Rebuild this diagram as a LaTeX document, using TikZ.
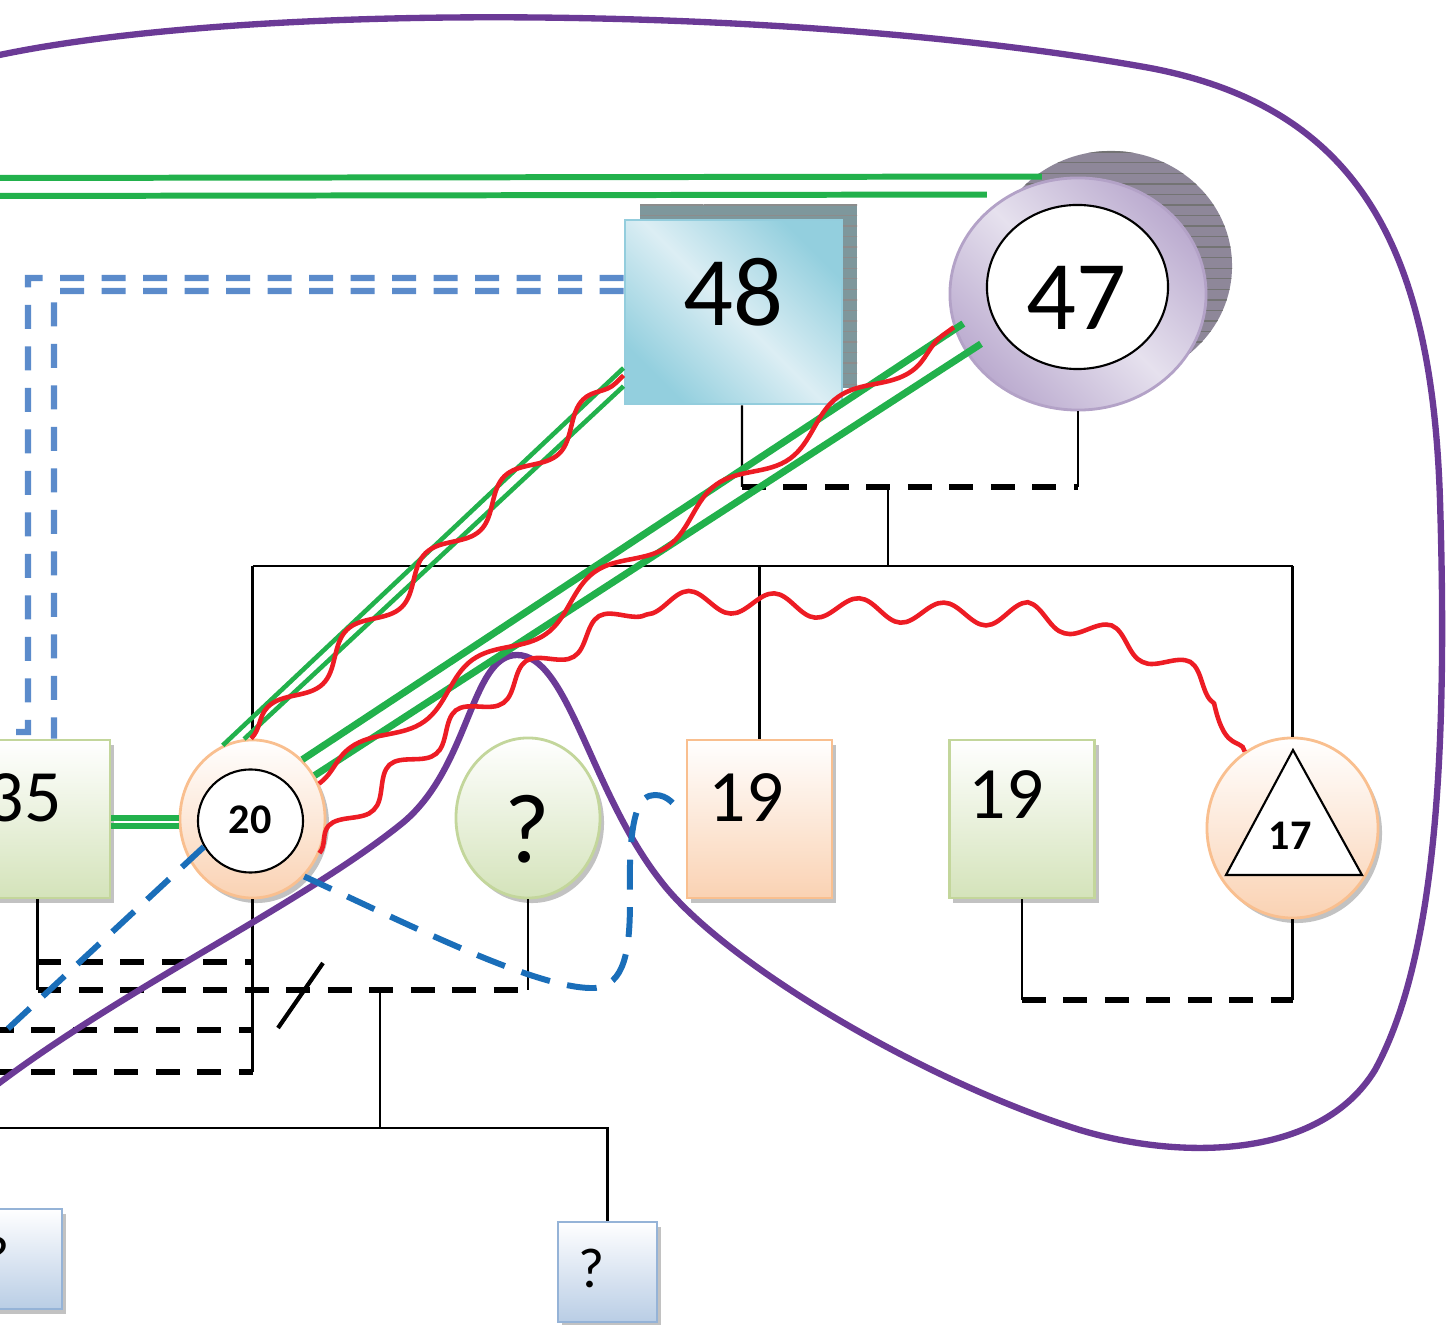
\documentclass[tikz,border=0pt]{standalone}
\usepackage{fontspec}
\setmainfont{Carlito}
\usetikzlibrary{positioning,shapes.geometric,decorations.pathmorphing,patterns,shadows}

\definecolor{RelPurple}{HTML}{6B3A96}
\definecolor{TieGreen}{HTML}{22B14C}
\definecolor{HateRed}{HTML}{ED1C24}
\definecolor{CutBlue}{HTML}{5B8BCB}
\definecolor{DarkBlue}{HTML}{1A6EB9}
\definecolor{LeafLine}{HTML}{C3D69B}
\definecolor{LeafFill}{HTML}{D4E3BA}
\definecolor{PeachLine}{HTML}{F9BF8F}
\definecolor{PeachFill}{HTML}{FAD2B3}
\definecolor{AquaLine}{HTML}{93CDDD}
\definecolor{AquaDark}{HTML}{93CFDE}
\definecolor{AquaLight}{HTML}{DCEEF4}
\definecolor{LilacLine}{HTML}{B3A2C7}
\definecolor{LilacDark}{HTML}{BBABCF}
\definecolor{LilacLight}{HTML}{E6E1EE}
\definecolor{SkyLine}{HTML}{95B3D7}
\definecolor{SkyFill}{HTML}{B9CDE5}
\definecolor{ShadowTeal}{HTML}{7E979C}
\definecolor{ShadowLilac}{HTML}{8E8799}

\begin{document}
\begin{tikzpicture}[
  x=0.01cm, y=-0.01cm,
  man/.style={rectangle, inner sep=0pt, minimum width=1.45cm, minimum height=1.58cm},
  woman/.style={ellipse, inner sep=0pt},
  leaf/.style={draw=LeafLine, line width=0.8pt, top color=white, bottom color=LeafFill},
  peach/.style={draw=PeachLine, line width=0.8pt, top color=white, bottom color=PeachFill},
  sky/.style={draw=SkyLine, line width=0.8pt, top color=white, bottom color=SkyFill},
  softshadow/.style={drop shadow={shadow xshift=0.04cm, shadow yshift=-0.05cm, fill=black!40, opacity=0.6}},
  ring/.style={ellipse, draw, fill=white, line width=0.6pt, inner sep=0pt},
  numbig/.style={font=\fontsize{28}{28}\selectfont, inner sep=0pt},
  numtag/.style={font=\fontsize{21}{21}\selectfont, inner sep=0pt},
  numsmall/.style={font=\bfseries\fontsize{12}{12}\selectfont, inner sep=0pt},
  life/.style={line width=0.7pt},
  marr/.style={line width=1.6pt, dash pattern=on 6.8pt off 5pt},
  split/.style={line width=1.2pt},
  close/.style={TieGreen, line width=1.7pt},
  hostile/.style={HateRed, line width=1.3pt, decorate, decoration={snake, segment length=#1, amplitude=0.11cm}},
  hostile/.default=1cm,
  cutoff/.style={CutBlue, line width=1.8pt, dash pattern=on 6.8pt off 5pt},
  distant/.style={DarkBlue, line width=1.7pt, dash pattern=on 8.5pt off 5pt},
  household/.style={RelPurple, line width=1.8pt}
]
\useasboundingbox (0,0) rectangle (1447,1325);
\clip (0,0) rectangle (1447,1325);

% Generation 1 - grandparents (with hatched shadows)
\path[fill=ShadowTeal, postaction={pattern=horizontal lines, pattern color=black!45}] (640,205) rectangle (857,388);
\path[fill=ShadowLilac, postaction={pattern=horizontal lines, pattern color=black!55}] (1111,266) ellipse [x radius=1.21cm, y radius=1.15cm];
\node[man, draw=AquaLine, line width=0.8pt, top color=AquaDark, bottom color=AquaDark, middle color=AquaLight, shading angle=-45, minimum width=2.17cm, minimum height=1.84cm] (Man48) at (733.5,312) {};
\node[woman, draw=LilacLine, line width=0.8pt, top color=LilacDark, bottom color=LilacDark, middle color=LilacLight, shading angle=-45, minimum width=2.56cm, minimum height=2.32cm] (Woman47) at (1078,294) {};
\node[ring, minimum width=1.81cm, minimum height=1.64cm] (Woman47in) at (1077.5,287) {};
\node[numbig] (Lab48) at (733,292) {48};
\node[numbig] (Lab47) at (1076,298) {47};

% Generation 2 - children and partners
\node[man, leaf, softshadow] (Man35) at (37.5,819) {};
\node[woman, peach, softshadow, minimum width=1.45cm, minimum height=1.58cm] (Woman20) at (252.5,819) {};
\node[ring, minimum width=1.05cm, minimum height=1.03cm] (Woman20in) at (250.5,821) {};
\node[woman, leaf, softshadow, minimum width=1.44cm, minimum height=1.6cm] (WomanQ) at (528,818) {};
\node[man, peach, softshadow] (Man19a) at (759.5,819) {};
\node[man, leaf, softshadow] (Man19b) at (1022,819) {};
\node[woman, peach, softshadow, minimum width=1.71cm, minimum height=1.8cm] (Woman17) at (1292.5,828) {};
\draw[fill=white, line width=0.6pt] (1293,750) -- (1362,875) -- (1226,875) -- cycle;
\node[numtag] (Lab35) at (24,798) {35};
\node[numsmall] (Lab20) at (250,820) {20};
\node[numbig] (LabQ) at (527,829) {?};
\node[numtag] (Lab19a) at (746,798) {19};
\node[numtag] (Lab19b) at (1006,795) {19};
\node[numsmall] (Lab17) at (1290,836) {17};

% Generation 3 - grandchildren
\node[man, sky, softshadow, minimum width=0.99cm, minimum height=1.0cm] (BoyQa) at (12.5,1259) {};
\node[man, sky, softshadow, minimum width=0.99cm, minimum height=1.0cm] (BoyQb) at (607.5,1272) {};
\node[font=\fontsize{16}{16}\selectfont, inner sep=0pt] (LabQa) at (-3,1256) {?};
\node[font=\fontsize{16}{16}\selectfont, inner sep=0pt] (LabQb) at (592,1268) {?};

% 48 + 47 and their children
\coordinate (Wed1L) at (742,487);
\coordinate (Wed1R) at (1078,487);
\coordinate (Kids1) at (888,487);
\coordinate (Bar1) at (888,566);
\draw[life] ([xshift=0.085cm]Man48.south) -- (Wed1L);
\draw[life] (Woman47.south) -- (Wed1R);
\draw[marr] (Wed1L) -- (Wed1R);
\draw[life] (Kids1) -- (Bar1);
\draw[life] (Woman20.north |- Bar1) -- (Woman17.north |- Bar1);
\draw[life] (Woman20.north |- Bar1) -- (Woman20.north);
\draw[life] (Man19a.north |- Bar1) -- (Man19a.north);
\draw[life] (Woman17.north |- Bar1) -- (Woman17.north);

% partners of 20 and their child
\coordinate (Wed2a) at (37.5,962);
\coordinate (Wed2b) at (37.5,990);
\coordinate (Wed3a) at (252.5,1030);
\coordinate (Wed3b) at (252.5,1072);
\coordinate (Away1) at (-10,1030);
\coordinate (Away2) at (-10,1072);
\coordinate (Cut1) at (278,1028);
\coordinate (Cut2) at (323,963);
\coordinate (Kids2) at (380,990);
\coordinate (Bar2) at (380,1128);
\coordinate (Bar2L) at (-10,1128);
\draw[life] (Man35.south) -- (Wed2b);
\draw[life] (Woman20.south) -- (Wed3b);
\draw[life] (WomanQ.south) -- (WomanQ.south |- Wed2b);
\draw[marr] (Wed2a) -- (Woman20.south |- Wed2a);
\draw[marr] (Wed2b) -- (WomanQ.south |- Wed2b);
\draw[marr] (Away1) -- (Wed3a);
\draw[marr] (Away2) -- (Wed3b);
\draw[split] (Cut1) -- (Cut2);
\draw[life] (Kids2) -- (Bar2);
\draw[life] (Bar2L) -- (BoyQb.north |- Bar2) -- (BoyQb.north);

% 19 + 17
\coordinate (Wed4) at (1150,1000);
\draw[life] (Man19b.south) -- (Man19b.south |- Wed4);
\draw[life] (Woman17.south) -- (Woman17.south |- Wed4);
\draw[marr] (Man19b.south |- Wed4) -- (Woman17.south |- Wed4);

% household boundary
\draw[household] (-10,57) .. controls (250,0) and (800,5) .. (1150,68)
  .. controls (1360,108) and (1432,250) .. (1440,500)
  .. controls (1448,760) and (1435,960) .. (1375,1070)
  .. controls (1320,1160) and (1180,1160) .. (1080,1130)
  .. controls (920,1080) and (720,960) .. (660,880)
  .. controls (590,790) and (568,655) .. (517,655)
  .. controls (470,655) and (470,770) .. (400,825)
  .. controls (300,905) and (120,990) .. (-10,1090);

% cut-off 48 - 35
\coordinate (CutA1) at (28,278);
\coordinate (CutA2) at (28,732);
\coordinate (CutA3) at (16,732);
\coordinate (CutB1) at (54,291);
\draw[cutoff] ([yshift=0.34cm]Man48.west) -- (CutA1) -- (CutA2) -- (CutA3);
\draw[cutoff] ([yshift=0.21cm]Man48.west) -- (CutB1) -- (CutB1 |- Man35.north);

% distant ties of 20
\coordinate (Away3) at (-15,1050);
\draw[distant] (Woman20in.209) -- (Away3);
\draw[distant, shorten >=0.06cm] (Woman20.-48) .. controls (420,930) and (540,990) .. (595,988)
  .. controls (625,985) and (630,950) .. (630,900)
  .. controls (628,810) and (640,795) .. (655,795)
  .. controls (668,795) and (675,805) .. (Man19a.west);

% close ties
\coordinate (Tie1) at (-10,178);
\coordinate (Tie2) at (-10,196);
\draw[close] (Tie1) -- ([xshift=-0.36cm]Woman47.north);
\draw[close] (Tie2) -- ([xshift=-0.91cm, yshift=-0.18cm]Woman47.north);
\draw[close] (Man35.east |- 0,818) -- (Woman20.west |- 0,818);
\draw[close] (Man35.east |- 0,826) -- (Woman20.west |- 0,826);
\draw[close, line width=1.3pt] (Woman20.112) -- (Man48.-153);
\draw[close, line width=1.3pt] (Woman20.96) -- (Man48.-146);
\draw[close, line width=2pt, shorten >=-3pt] (Woman20.50) -- (Woman47.196);
\draw[close, line width=2pt, shorten >=-5pt] (Woman20.35) -- (Woman47.208);

% hostile ties
\draw[hostile=1.1cm] (Woman20.91) -- (Man48.-150);
\draw[hostile=1.5cm] (Woman20.28) -- (Woman47.195);
\draw[hostile=0.85cm] (Woman20.-27) .. controls (400,760) and (520,680) .. (620,625)
  .. controls (720,615) and (900,640) .. (1005,634)
  .. controls (1100,650) and (1200,700) .. (Woman17.122);

\end{tikzpicture}
\end{document}
